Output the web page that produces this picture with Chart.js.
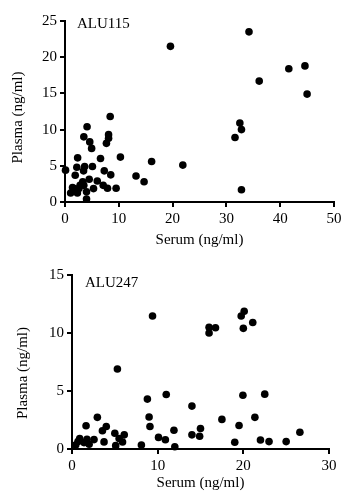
<!DOCTYPE html>
<html>
<head>
<meta charset="utf-8">
<script src="https://cdn.jsdelivr.net/npm/chart.js@4.4.1/dist/chart.umd.min.js"></script>
<style>
  body { margin: 0; background: #fff; }
  .grafico { position: absolute; left: 0; width: 359px; }
  #g1 { top: 0; height: 252px; }
  #g2 { top: 252px; height: 250px; }
</style>
</head>
<body>
<div class="grafico" id="g1"><canvas id="graficoAlu115"></canvas></div>
<div class="grafico" id="g2"><canvas id="graficoAlu247"></canvas></div>
<script>
// Dados ALU115 (soro x plasma, ng/ml)
const soro115 = [19.6, 34.2, 36.1, 41.6, 44.6, 45.0, 32.5, 32.8, 31.6, 32.8,
  21.9, 16.1, 14.7, 13.2, 10.3, 9.5, 8.4, 8.1, 8.1, 7.7,
  8.5, 7.9, 7.3, 7.1, 6.6, 6.0, 5.3, 5.1, 4.95, 4.6,
  4.1, 3.5, 4.5, 4.0, 4.0, 3.65, 3.45, 3.3, 3.5, 2.35,
  2.2, 1.9, 2.6, 2.3, 1.7, 1.05, 1.4, 0.1, 2.8];
const plasma115 = [21.5, 23.5, 16.7, 18.4, 18.8, 14.9, 10.9, 10.0, 8.9, 1.7,
  5.1, 5.6, 2.8, 3.6, 6.2, 1.9, 11.8, 9.3, 8.8, 8.1,
  3.75, 1.9, 4.3, 2.3, 6.0, 2.9, 1.85, 4.9, 7.4, 8.3,
  10.4, 9.0, 3.15, 1.4, 0.4, 4.9, 4.3, 2.8, 2.3, 6.1,
  4.8, 3.7, 1.85, 1.25, 1.85, 1.25, 2.0, 4.4, 2.3];

// Dados ALU247
const soro247 = [9.4, 5.3, 16.0, 16.0, 16.75, 19.75, 20.1, 20.0, 21.1, 19.95,
  22.5, 21.35, 19.5, 17.5, 14.0, 11.0, 8.8, 9.0, 9.1, 10.1,
  10.9, 11.9, 12.0, 14.0, 15.0, 14.9, 19.0, 22.0, 23.0, 25.0,
  26.6, 8.1, 2.96, 1.64, 4.0, 3.55, 3.74, 2.57, 1.75, 2.0,
  0.9, 0.7, 0.43, 5.0, 6.1, 5.5, 5.9, 5.1, 1.4];
const plasma247 = [11.46, 6.9, 10.5, 10.0, 10.45, 11.46, 11.87, 10.4, 10.9, 4.64,
  4.73, 2.73, 2.03, 2.55, 3.7, 4.7, 4.3, 2.76, 1.94, 1.0,
  0.8, 1.62, 0.2, 1.22, 1.77, 1.1, 0.58, 0.78, 0.64, 0.64,
  1.45, 0.35, 2.73, 2.0, 1.94, 1.57, 0.61, 0.81, 0.84, 0.41,
  0.9, 0.64, 0.35, 1.36, 1.22, 0.9, 0.6, 0.29, 0.55];

// Ticks dos eixos
const ticksX115 = [0, 10, 20, 30, 40, 50];
const ticksY115 = [0, 5, 10, 15, 20, 25];
const ticksX247 = [0, 10, 20, 30];
const ticksY247 = [0, 5, 10, 15];

const fonte = { family: '"Liberation Serif", "Times New Roman", serif', size: 15 };

function montarPontos(xs, ys) {
  return xs.map((x, i) => ({ x: x, y: ys[i] }));
}

// Texto ALU dentro do grafico + titulo do eixo Y (um pouco abaixo do centro, como no original)
const rotuloPainel = {
  id: 'rotuloPainel',
  afterDraw(chart, args, opts) {
    const { ctx, chartArea } = chart;
    ctx.save();
    ctx.font = '15px "Liberation Serif", serif';
    ctx.fillStyle = '#000';
    ctx.textBaseline = 'middle';
    ctx.fillText(opts.texto, chartArea.left + opts.dx, chartArea.top + opts.dy);
    ctx.translate(opts.tituloX, (chartArea.top + chartArea.bottom) / 2 + opts.tituloDy);
    ctx.rotate(-Math.PI / 2);
    ctx.textAlign = 'center';
    ctx.fillText('Plasma (ng/ml)', 0, 0);
    ctx.restore();
  }
};

function eixo(ticks, titulo, tamanho, horizontal) {
  return {
    type: 'linear',
    min: ticks[0],
    max: ticks[ticks.length - 1],
    afterBuildTicks: (s) => { s.ticks = ticks.map(v => ({ value: v })); },
    afterFit: (s) => {
      if (horizontal) s.height = tamanho; else s.width = tamanho;
    },
    ticks: { color: '#000', font: fonte, padding: 3, maxRotation: 0 },
    grid: { display: true, drawOnChartArea: false, drawTicks: true, tickLength: 5, tickWidth: 2, color: '#000', lineWidth: 2 },
    border: { display: true, color: '#000', width: 2 },
    title: { display: horizontal, text: titulo, color: '#000', font: fonte, padding: 0 }
  };
}

function criarConfig(xs, ys, tx, ty, texto, lay) {
  return {
    type: 'scatter',
    data: {
      datasets: [{
        data: montarPontos(xs, ys),
        backgroundColor: '#000',
        borderColor: '#000',
        pointRadius: 3.8,
        pointBorderWidth: 0,
        clip: false
      }]
    },
    options: {
      responsive: true,
      maintainAspectRatio: false,
      animation: false,
      devicePixelRatio: 1,
      layout: { padding: lay.padding },
      plugins: {
        legend: { display: false },
        tooltip: { enabled: false },
        rotuloPainel: { texto: texto, dx: lay.dx, dy: lay.dy, tituloX: lay.tituloX, tituloDy: lay.tituloDy }
      },
      scales: {
        x: eixo(tx, 'Serum (ng/ml)', lay.alturaX, true),
        y: eixo(ty, 'Plasma (ng/ml)', lay.larguraY, false)
      }
    },
    plugins: [rotuloPainel]
  };
}

const grafico1 = new Chart(
  document.getElementById('graficoAlu115'),
  criarConfig(soro115, plasma115, ticksX115, ticksY115, 'ALU115', {
    padding: { left: 9, right: 25, top: 21, bottom: 3 },
    larguraY: 56, alturaX: 47, dx: 12, dy: 3, tituloX: 18, tituloDy: 6
  })
);

const grafico2 = new Chart(
  document.getElementById('graficoAlu247'),
  criarConfig(soro247, plasma247, ticksX247, ticksY247, 'ALU247', {
    padding: { left: 14, right: 30, top: 23, bottom: 10 },
    larguraY: 58, alturaX: 43, dx: 13, dy: 8, tituloX: 23, tituloDy: 11
  })
);
</script>
</body>
</html>
